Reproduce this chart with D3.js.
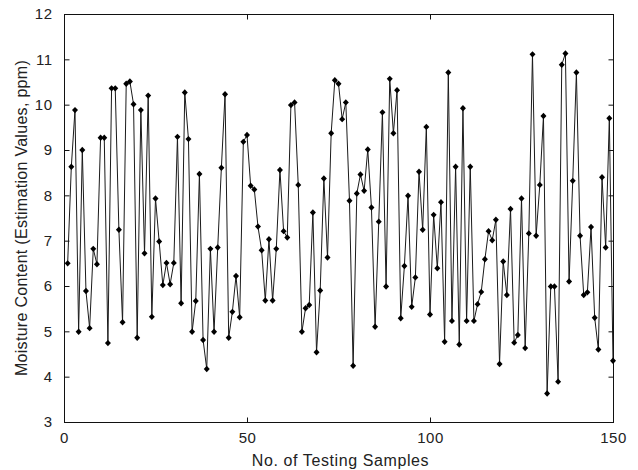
<!DOCTYPE html>
<html>
<head>
<meta charset="utf-8">
<script src="https://cdn.jsdelivr.net/npm/d3@7"></script>
<style>
  html, body { margin: 0; padding: 0; background: #fff; }
  svg { display: block; }
  text { font-family: "Liberation Sans", Arial, sans-serif; fill: #222; }
</style>
</head>
<body>
<svg id="chart" width="638" height="470"></svg>
<script>
// ---- data ----
const samples = d3.range(1, 151);
const moisture = [
  6.50, 8.63, 9.88, 4.99, 9.00, 5.89, 5.07, 6.82, 6.48, 9.27,
  9.27, 4.74, 10.36, 10.36, 7.24, 5.20, 10.46, 10.51, 10.01, 4.86,
  9.88, 6.72, 10.20, 5.32, 7.93, 6.98, 6.02, 6.51, 6.04, 6.51,
  9.29, 5.62, 10.27, 9.24, 4.99, 5.67, 8.47, 4.81, 4.17, 6.82,
  4.99, 6.85, 8.61, 10.23, 4.86, 5.43, 6.22, 5.31, 9.18, 9.33,
  8.21, 8.13, 7.31, 6.79, 5.68, 7.03, 5.68, 6.82, 8.56, 7.21,
  7.07, 9.99, 10.05, 8.23, 4.99, 5.51, 5.58, 7.62, 4.54, 5.90,
  8.37, 6.63, 9.37, 10.54, 10.46, 9.68, 10.05, 7.88, 4.24, 8.04,
  8.46, 8.10, 9.01, 7.73, 5.10, 7.42, 9.83, 5.99, 10.57, 9.37,
  10.32, 5.29, 6.44, 7.99, 5.54, 6.19, 8.52, 7.24, 9.51, 5.37,
  7.57, 6.39, 7.85, 4.77, 10.71, 5.23, 8.63, 4.71, 9.92, 5.23,
  8.63, 5.23, 5.60, 5.87, 6.59, 7.21, 7.01, 7.46, 4.28, 6.54,
  5.80, 7.70, 4.75, 4.92, 7.93, 4.63, 7.16, 11.11, 7.11, 8.23,
  9.75, 3.63, 5.99, 5.99, 3.89, 10.88, 11.13, 6.10, 8.32, 10.71,
  7.11, 5.80, 5.86, 7.30, 5.30, 4.60, 8.40, 6.85, 9.70, 4.35
];
const xTicks = [0, 50, 100, 150];
const yTicks = [3, 4, 5, 6, 7, 8, 9, 10, 11, 12];
const xLabel = "No. of Testing Samples";
const yLabel = "Moisture Content (Estimation Values, ppm)";

// ---- layout ----
const L = 64, R = 613, T = 14, B = 422;
const svg = d3.select("#chart");
const x = d3.scaleLinear().domain([0, 150]).range([L, R]);
const y = d3.scaleLinear().domain([3, 12]).range([B, T]);
const axisColor = "#111";
const tickLen = 5;

// box
svg.append("rect")
  .attr("x", L + 0.5).attr("y", T + 0.5)
  .attr("width", R - L).attr("height", B - T)
  .attr("fill", "none").attr("stroke", axisColor).attr("stroke-width", 1);

// axes (inward ticks, mirrored)
function styleAxis(g) {
  g.select(".domain").remove();
  g.selectAll(".tick line").attr("stroke", axisColor);
  g.selectAll(".tick text").attr("fill", "#222")
    .style("font-family", '"Liberation Sans", Arial, sans-serif')
    .style("font-size", "15px")
    .style("letter-spacing", "0.5px");
}
svg.append("g").attr("transform", `translate(0,${B + 0.5})`)
  .call(d3.axisBottom(x).tickValues(xTicks).tickFormat(d3.format("d"))
    .tickSizeInner(-tickLen).tickSizeOuter(0).tickPadding(10))
  .call(styleAxis);
svg.append("g").attr("transform", `translate(0,${T + 0.5})`)
  .call(d3.axisTop(x).tickValues(xTicks).tickFormat("")
    .tickSizeInner(-tickLen).tickSizeOuter(0))
  .call(styleAxis);
svg.append("g").attr("transform", `translate(${L + 0.5},0)`)
  .call(d3.axisLeft(y).tickValues(yTicks).tickFormat(d3.format("d"))
    .tickSizeInner(-tickLen).tickSizeOuter(0).tickPadding(12))
  .call(styleAxis);
svg.append("g").attr("transform", `translate(${R + 0.5},0)`)
  .call(d3.axisRight(y).tickValues(yTicks).tickFormat("")
    .tickSizeInner(-tickLen).tickSizeOuter(0))
  .call(styleAxis);

// line
const pts = samples.map((s, i) => [s, moisture[i]]);
svg.append("path")
  .datum(pts)
  .attr("fill", "none")
  .attr("stroke", "#1a1a1a")
  .attr("stroke-width", 1)
  .attr("d", d3.line().x(d => x(d[0])).y(d => y(d[1])));

// diamond markers
const diamond = "M0,-3.2L3,0L0,3.2L-3,0Z";
svg.append("g").selectAll("path")
  .data(pts).join("path")
  .attr("d", diamond)
  .attr("transform", d => `translate(${x(d[0])},${y(d[1])})`)
  .attr("fill", "#000");

// labels
svg.append("text")
  .attr("x", (L + R) / 2 + 2).attr("y", 466)
  .attr("text-anchor", "middle")
  .style("font-size", "16px")
  .style("letter-spacing", "0.6px")
  .text(xLabel);
svg.append("text")
  .attr("transform", `translate(27,${(T + B) / 2}) rotate(-90)`)
  .attr("text-anchor", "middle")
  .style("font-size", "16px")
  .style("letter-spacing", "0.3px")
  .text(yLabel);
</script>
</body>
</html>
